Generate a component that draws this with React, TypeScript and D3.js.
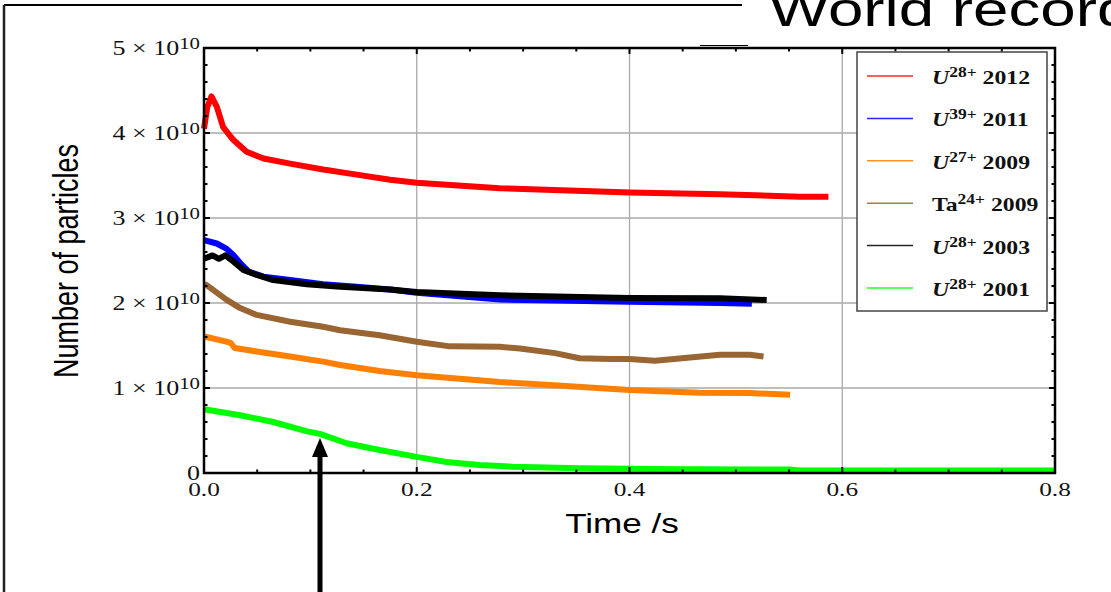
import { useMemo } from 'react'
import * as d3 from 'd3'

// values in units of 1e10 particles, time in s
const T_U28_2012 = [0, 0.003, 0.007, 0.012, 0.018, 0.0275, 0.04, 0.056, 0.081, 0.112, 0.1435, 0.175, 0.2, 0.278, 0.4, 0.485, 0.56, 0.587]
const N_U28_2012 = [4.05, 4.3, 4.43, 4.31, 4.07, 3.92, 3.78, 3.7, 3.64, 3.57, 3.51, 3.45, 3.415, 3.35, 3.3, 3.28, 3.25, 3.25]

const T_U39_2011 = [0, 0.012, 0.021, 0.0275, 0.034, 0.042, 0.056, 0.081, 0.112, 0.1435, 0.175, 0.2, 0.278, 0.4, 0.485, 0.515]
const N_U39_2011 = [2.74, 2.7, 2.64, 2.565, 2.47, 2.37, 2.31, 2.27, 2.22, 2.19, 2.16, 2.12, 2.04, 2.015, 2.0, 1.99]

const T_U27_2009 = [0, 0.0025, 0.021, 0.025, 0.029, 0.0495, 0.081, 0.112, 0.128, 0.165, 0.2, 0.278, 0.325, 0.4, 0.466, 0.513, 0.551]
const N_U27_2009 = [1.6, 1.6, 1.545, 1.53, 1.47, 1.43, 1.37, 1.31, 1.27, 1.2, 1.15, 1.07, 1.035, 0.976, 0.945, 0.94, 0.92]

const T_TA24_2009 = [0, 0.0025, 0.021, 0.034, 0.0495, 0.081, 0.112, 0.128, 0.165, 0.2, 0.231, 0.278, 0.297, 0.33, 0.353, 0.382, 0.4, 0.424, 0.457, 0.485, 0.513, 0.526]
const N_TA24_2009 = [2.22, 2.21, 2.04, 1.94, 1.86, 1.78, 1.72, 1.68, 1.62, 1.545, 1.49, 1.485, 1.465, 1.41, 1.35, 1.34, 1.34, 1.32, 1.36, 1.39, 1.39, 1.37]

const T_U28_2003 = [0, 0.008, 0.014, 0.02, 0.0275, 0.037, 0.0495, 0.065, 0.0965, 0.128, 0.175, 0.2, 0.278, 0.4, 0.485, 0.529]
const N_U28_2003 = [2.52, 2.56, 2.52, 2.56, 2.49, 2.39, 2.33, 2.27, 2.22, 2.19, 2.16, 2.13, 2.09, 2.06, 2.055, 2.035]

const T_U28_2001 = [0, 0.034, 0.065, 0.097, 0.109, 0.134, 0.165, 0.2, 0.228, 0.259, 0.29, 0.353, 0.447, 0.55, 0.56, 0.8]
const N_U28_2001 = [0.75, 0.68, 0.6, 0.49, 0.46, 0.35, 0.27, 0.19, 0.13, 0.094, 0.074, 0.055, 0.045, 0.04, 0.03, 0.03]

const X_TICKS = ['0.0', '0.2', '0.4', '0.6', '0.8']
const Y_TICKS = ['0', '1', '2', '3', '4', '5']

const SERIES = [
  { ion: 'U', charge: '28+', year: '2012', color: '#ff0000', t: T_U28_2012, n: N_U28_2012 },
  { ion: 'U', charge: '39+', year: '2011', color: '#0000ff', t: T_U39_2011, n: N_U39_2011 },
  { ion: 'U', charge: '27+', year: '2009', color: '#ff8000', t: T_U27_2009, n: N_U27_2009 },
  { ion: 'Ta', charge: '24+', year: '2009', color: '#996633', t: T_TA24_2009, n: N_TA24_2009 },
  { ion: 'U', charge: '28+', year: '2003', color: '#000000', t: T_U28_2003, n: N_U28_2003 },
  { ion: 'U', charge: '28+', year: '2001', color: '#00ff00', t: T_U28_2001, n: N_U28_2001 },
]

const SERIF = "'Liberation Serif','Times New Roman',serif"
const SANS = "'Liberation Sans',Arial,sans-serif"
const SX = 1.3 // the source picture is stretched sideways

export default function App() {
  const W = 1111
  const H = 592
  const left = 204, right = 1055, top = 48, bottom = 473

  const x = useMemo(() => d3.scaleLinear().domain([0, 0.8]).range([left, right]), [])
  const y = useMemo(() => d3.scaleLinear().domain([0, 5]).range([bottom, top]), [])

  const line = d3.line<[number, number]>().x((d) => x(d[0])).y((d) => y(d[1]))

  const xMinor = d3.range(0, 0.8001, 0.05)
  const yMinor = d3.range(0, 5.001, 0.2)
  const xMajor = X_TICKS.map(Number)
  const yMajor = Y_TICKS.map(Number)

  const legX = 857, legY = 52, legW = 190, legH = 259, legStep = 42.4

  return (
    <svg width={W} height={H} style={{ position: 'absolute', left: 0, top: 0, background: '#fff' }}>
      {/* slide frame */}
      <line x1={4} y1={5} x2={742} y2={5} stroke="#000" strokeWidth={2} />
      <line x1={4} y1={5} x2={4} y2={H} stroke="#222" strokeWidth={2.5} />
      <line x1={700} y1={45.5} x2={748} y2={45.5} stroke="#000" strokeWidth={1.2} />
      <text transform={`translate(769,26) scale(${SX},1)`} fontFamily={SANS} fontSize={49} fill="#000">World record</text>

      {/* grid */}
      {xMajor.slice(1, -1).map((v) => (
        <line key={'gx' + v} x1={x(v)} x2={x(v)} y1={top} y2={bottom} stroke="#aaa" strokeWidth={1.3} />
      ))}
      {yMajor.slice(1, -1).map((v) => (
        <line key={'gy' + v} x1={left} x2={right} y1={y(v)} y2={y(v)} stroke="#aaa" strokeWidth={1.3} />
      ))}

      {/* series */}
      {SERIES.map((s, i) => (
        <path
          key={i}
          d={line(s.t.map((t, j) => [t, s.n[j]] as [number, number])) || ''}
          fill="none"
          stroke={s.color}
          strokeWidth={6}
          strokeLinejoin="round"
        />
      ))}

      {/* frame and ticks */}
      <rect x={left} y={top} width={right - left} height={bottom - top} fill="none" stroke="#000" strokeWidth={2.5} />
      {xMinor.map((v, i) => {
        const len = i % 4 === 0 ? 6 : 3.5
        return (
          <g key={'tx' + i}>
            <line x1={x(v)} x2={x(v)} y1={bottom} y2={bottom - len} stroke="#000" strokeWidth={2} />
            <line x1={x(v)} x2={x(v)} y1={top} y2={top + len} stroke="#000" strokeWidth={2} />
          </g>
        )
      })}
      {yMinor.map((v, i) => {
        const len = i % 5 === 0 ? 6 : 3.5
        return (
          <g key={'ty' + i}>
            <line x1={left} x2={left + len} y1={y(v)} y2={y(v)} stroke="#000" strokeWidth={2} />
            <line x1={right} x2={right - len} y1={y(v)} y2={y(v)} stroke="#000" strokeWidth={2} />
          </g>
        )
      })}

      {/* tick labels */}
      {X_TICKS.map((lbl) => (
        <text key={'lx' + lbl} transform={`translate(${x(Number(lbl))},496) scale(${SX},1)`} textAnchor="middle" fontFamily={SERIF} fontSize={19.5} fill="#111">
          {lbl}
        </text>
      ))}
      {Y_TICKS.map((lbl) => (
        <text key={'ly' + lbl} transform={`translate(200,${y(Number(lbl)) + 7}) scale(${SX},1)`} textAnchor="end" fontFamily={SERIF} fontSize={20} fill="#111">
          {lbl === '0' ? '0' : (
            <>
              {lbl} × 10<tspan dy={-6} fontSize={16}>10</tspan>
            </>
          )}
        </text>
      ))}

      {/* axis titles */}
      <text transform={`translate(622,533) scale(${SX},1)`} textAnchor="middle" fontFamily={SANS} fontSize={27} fill="#000">Time /s</text>
      <text transform={`translate(78,261) scale(${SX},1) rotate(-90)`} textAnchor="middle" fontFamily={SANS} fontSize={27} fill="#000">Number of particles</text>

      {/* legend */}
      <rect x={legX} y={legY} width={legW} height={legH} fill="#fff" stroke="#444" strokeWidth={1.5} />
      {SERIES.map((s, i) => {
        const ly = 76 + i * legStep
        return (
          <g key={'leg' + i}>
            <line x1={867} x2={913} y1={ly} y2={ly} stroke={s.color} strokeWidth={1.5} opacity={0.85} />
            <text transform={`translate(932,${ly + 8}) scale(1.25,1)`} fontFamily={SERIF} fontWeight="bold" fontSize={19} fill="#111">
              <tspan fontStyle={s.ion === 'U' ? 'italic' : 'normal'}>{s.ion}</tspan>
              <tspan dy={-7} fontSize={14}>{s.charge}</tspan>
              <tspan dy={7}> {s.year}</tspan>
            </text>
          </g>
        )
      })}

      {/* arrow */}
      <line x1={320} x2={320} y1={H} y2={452} stroke="#000" strokeWidth={5} />
      <path d="M312,457 L320,438 L328,457 Z" fill="#000" />
    </svg>
  )
}
